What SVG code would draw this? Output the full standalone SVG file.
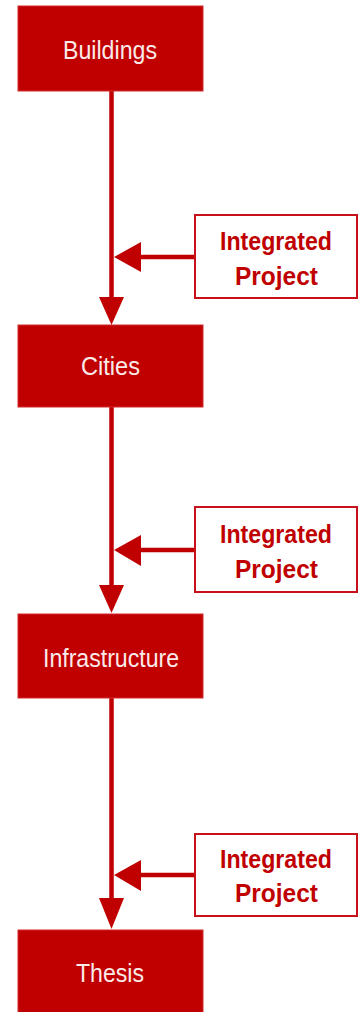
<svg xmlns="http://www.w3.org/2000/svg" width="360" height="1012" viewBox="0 0 360 1012">
<defs>
<style>
.box{fill:#c00000;stroke:#d22a2a;stroke-width:1}
.ip{fill:#ffffff;stroke:#c8101a;stroke-width:2}
.lbl{font-family:"Liberation Sans",Arial,sans-serif;font-size:25px;fill:#fbeaea;text-anchor:middle}
.iplbl{font-family:"Liberation Sans",Arial,sans-serif;font-size:25px;font-weight:bold;fill:#c00000;text-anchor:middle}
.ln{stroke:#c00000;stroke-width:4.5;fill:none}
.hd{fill:#c00000}
</style>
</defs>
<rect width="360" height="1012" fill="#ffffff"/>
<g id="connectors">
<line class="ln" x1="111.5" y1="91" x2="111.5" y2="300"/>
<polygon class="hd" points="99,297 124,297 111.5,325"/>
<line class="ln" x1="195" y1="257" x2="138" y2="257"/>
<polygon class="hd" points="141,242 141,272 114,257"/>
<line class="ln" x1="111.5" y1="407" x2="111.5" y2="588"/>
<polygon class="hd" points="99,585 124,585 111.5,613"/>
<line class="ln" x1="195" y1="550" x2="138" y2="550"/>
<polygon class="hd" points="141,535 141,566 114,550"/>
<line class="ln" x1="111.5" y1="698" x2="111.5" y2="900"/>
<polygon class="hd" points="99,898 124,898 111.5,929"/>
<line class="ln" x1="195" y1="875" x2="138" y2="875"/>
<polygon class="hd" points="141,860 141,891 114,875"/>
</g>
<g id="buildings">
<rect class="box" x="18" y="6" width="185" height="85"/>
<text class="lbl" x="110" y="59" textLength="94" lengthAdjust="spacingAndGlyphs">Buildings</text>
</g>
<g id="cities">
<rect class="box" x="18" y="325" width="185" height="82"/>
<text class="lbl" x="110.5" y="375" textLength="59" lengthAdjust="spacingAndGlyphs">Cities</text>
</g>
<g id="infrastructure">
<rect class="box" x="18" y="614" width="185" height="84"/>
<text class="lbl" x="111" y="667" textLength="136" lengthAdjust="spacingAndGlyphs">Infrastructure</text>
</g>
<g id="thesis">
<rect class="box" x="18" y="930" width="185" height="90"/>
<text class="lbl" x="110" y="982" textLength="68" lengthAdjust="spacingAndGlyphs">Thesis</text>
</g>
<g id="ip1">
<rect class="ip" x="195" y="215" width="162" height="83"/>
<text class="iplbl" x="276" y="250" textLength="112" lengthAdjust="spacingAndGlyphs">Integrated</text>
<text class="iplbl" x="276.5" y="285" textLength="83" lengthAdjust="spacingAndGlyphs">Project</text>
</g>
<g id="ip2">
<rect class="ip" x="195" y="507" width="162" height="85"/>
<text class="iplbl" x="276" y="543" textLength="112" lengthAdjust="spacingAndGlyphs">Integrated</text>
<text class="iplbl" x="276.5" y="578" textLength="83" lengthAdjust="spacingAndGlyphs">Project</text>
</g>
<g id="ip3">
<rect class="ip" x="195" y="834" width="162" height="82"/>
<text class="iplbl" x="276" y="868" textLength="112" lengthAdjust="spacingAndGlyphs">Integrated</text>
<text class="iplbl" x="276.5" y="902" textLength="83" lengthAdjust="spacingAndGlyphs">Project</text>
</g>
</svg>
